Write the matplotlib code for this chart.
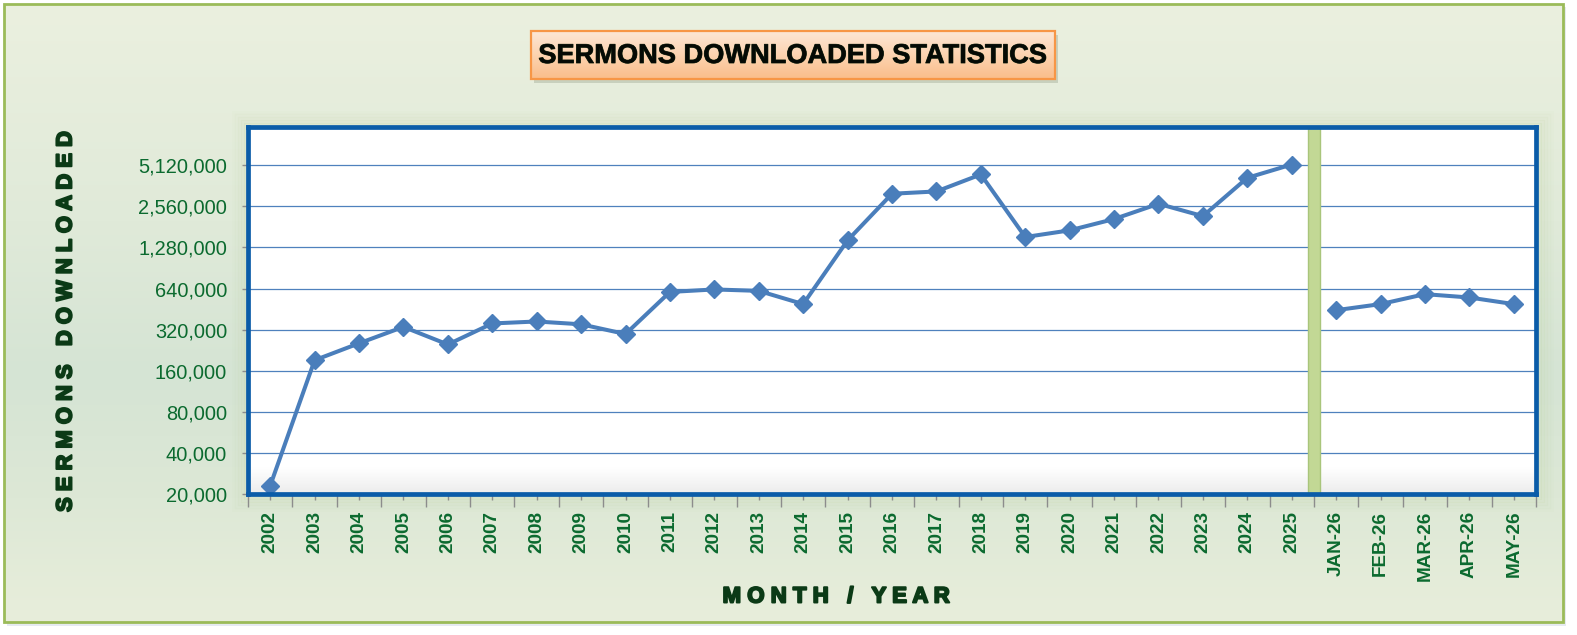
import numpy as np
import matplotlib
matplotlib.use("Agg")
import matplotlib.pyplot as plt
import matplotlib.patheffects as pe
from matplotlib.patches import Rectangle
from matplotlib.colors import to_rgb
from matplotlib.ticker import FixedLocator, NullFormatter

# ---------------- data ----------------
years = ["2002", "2003", "2004", "2005", "2006", "2007", "2008", "2009", "2010",
         "2011", "2012", "2013", "2014", "2015", "2016", "2017", "2018", "2019",
         "2020", "2021", "2022", "2023", "2024", "2025"]
year_values = [23000, 191000, 254000, 335000, 249000, 355000, 367000, 350000, 297000,
               604000, 630000, 615000, 492000, 1442000, 3165000, 3290000, 4380000, 1525000,
               1707000, 2065000, 2670000, 2170000, 4140000, 5180000]
months = ["JAN-26", "FEB-26", "MAR-26", "APR-26", "MAY-26"]
month_values = [444000, 492000, 582000, 550000, 492000]
y_ticks = [20000, 40000, 80000, 160000, 320000, 640000, 1280000, 2560000, 5120000]
y_tick_labels = ["20,000", "40,000", "80,000", "160,000", "320,000", "640,000",
                 "1,280,000", "2,560,000", "5,120,000"]
title = "SERMONS DOWNLOADED STATISTICS"
y_title = "S E R M O N S   D O W N L O A D E D"
x_title = "M O N T H   /   Y E A R"

W, H = 1577, 635
fig = plt.figure(figsize=(W / 100, H / 100), dpi=100)
fig.patch.set_facecolor("white")

ARIAL = ["Liberation Sans", "DejaVu Sans"]
TICK_GREEN = "#0b6a2f"
DARK_GREEN = "#0b3a16"

# ---------------- background (pixel coordinates) ----------------
bg = fig.add_axes([0, 0, 1, 1], zorder=-10)
bg.set_xlim(0, W)
bg.set_ylim(H, 0)
bg.axis("off")


def vgrad(stops, n=256):
    pos = np.linspace(0, 1, n)
    cols = np.array([to_rgb(c) for _, c in stops])
    ps = [p for p, _ in stops]
    arr = np.stack([np.interp(pos, ps, cols[:, k]) for k in range(3)], axis=1)
    return arr[:, None, :]


# outer shadow
bg.add_patch(Rectangle((7, 7), 1559, 619, facecolor="#d6dde8", edgecolor="none", alpha=0.6, zorder=0))
# outer gradient
bg.imshow(vgrad([(0, "#ebf0df"), (0.35, "#e0ead9"), (0.6, "#d5e4d4"), (0.8, "#dde8d6"), (1, "#e8eedb")]),
          extent=(4, 1563, 622, 4), aspect="auto", zorder=1, interpolation="bilinear")
bg.add_patch(Rectangle((4, 4), 1559, 618, facecolor="none", edgecolor="#9bbb59", lw=2.0, zorder=2))

# plot-area glow
PX0, PX1, PY0, PY1 = 248, 1536, 127, 494
for i, a in enumerate([0.09, 0.07, 0.05, 0.035, 0.02]):
    d = 3 + i * 3
    bg.add_patch(Rectangle((PX0 - d + 1, PY0 - d + 1), (PX1 - PX0) + 2 * d, (PY1 - PY0) + 2 * d,
                           facecolor="none", edgecolor="#9fbd6a", lw=3, alpha=a, zorder=3))
# plot-area white fill with slight inner bottom shading
bg.imshow(vgrad([(0, "#ffffff"), (0.93, "#ffffff"), (1, "#ececec")]),
          extent=(PX0, PX1, PY1, PY0), aspect="auto", zorder=4, interpolation="bilinear")

# title box
TX0, TX1, TY0, TY1 = 531, 1055, 31, 79
bg.add_patch(Rectangle((TX0 + 3, TY0 + 4), TX1 - TX0, TY1 - TY0, facecolor="#a3ad98", edgecolor="none",
                       alpha=0.45, zorder=5))
bg.imshow(vgrad([(0, "#fde7d6"), (0.5, "#fcd3b0"), (1, "#fabd8a")]),
          extent=(TX0, TX1, TY1, TY0), aspect="auto", zorder=6, interpolation="bilinear")
bg.add_patch(Rectangle((TX0, TY0), TX1 - TX0, TY1 - TY0, facecolor="none", edgecolor="#f79646", lw=1.6, zorder=7))
bg.text((TX0 + TX1) / 2, (TY0 + TY1) / 2 + 1, title, ha="center", va="center", fontsize=19.6,
        fontweight="bold", family=ARIAL, color="#050a05", zorder=8,
        path_effects=[pe.withStroke(linewidth=0.6, foreground="#1c2c14")])

bg.set_xlim(0, W)
bg.set_ylim(H, 0)

# axis titles
heavy = [pe.withStroke(linewidth=1.4, foreground=DARK_GREEN)]
bg.text(66, 321, y_title, rotation=90, ha="center", va="center", fontsize=15.8, fontweight="bold",
        family=ARIAL, color=DARK_GREEN, zorder=8, path_effects=heavy)
bg.text(836, 597, x_title, ha="center", va="center", fontsize=16, fontweight="bold",
        family=ARIAL, color=DARK_GREEN, zorder=8, path_effects=heavy)

# ---------------- main axes ----------------
ax = fig.add_axes([PX0 / W, 1 - PY1 / H, (PX1 - PX0) / W, (PY1 - PY0) / H], zorder=1)
ax.set_facecolor("none")
ax.set_yscale("log", base=2)

n_years = len(years)
x_years = np.arange(n_years)
x_months = np.arange(n_years, n_years + len(months))
labels = years + months

line_kw = dict(color="#4a7ebb", lw=2.9, marker="D", markersize=8.8, markerfacecolor="#4a7ebb",
               markeredgecolor="#4a7ebb", zorder=5, clip_on=False)
ax.plot(x_years, year_values, **line_kw)
ax.plot(x_months, month_values, **line_kw)

# separator bar between years and months
sep = n_years - 0.5
ax.axvspan(sep - 0.135, sep + 0.135, color="#c2d895", ec="#a9c57b", lw=1.0, zorder=4)

ax.set_xlim(-0.5, len(labels) - 0.5)
ax.set_ylim(20000, 20000 * 2 ** 8.93)

ax.yaxis.set_major_locator(FixedLocator(y_ticks))
ax.set_yticklabels(y_tick_labels)
ax.yaxis.set_minor_locator(FixedLocator([]))
ax.yaxis.set_minor_formatter(NullFormatter())
ax.grid(axis="y", which="major", color="#4f81bd", lw=0.9, zorder=1)

ax.set_xticks(np.arange(len(labels)))
ax.set_xticklabels(labels, rotation=90)
ax.xaxis.set_minor_locator(FixedLocator(np.arange(-0.5, len(labels), 1.0)))

ax.tick_params(axis="y", which="major", length=4, width=1, color="#8c8c8c", pad=11,
               labelsize=14.4, labelcolor=TICK_GREEN)
ax.tick_params(axis="x", which="major", length=4, width=1, color="#8c8c8c", pad=8,
               labelsize=13.6, labelcolor=TICK_GREEN)
ax.tick_params(axis="x", which="minor", length=9, width=1, color="#8c8c8c")
for lab in ax.get_yticklabels():
    lab.set_family(ARIAL)
for lab in ax.get_xticklabels():
    lab.set_family(ARIAL)
    lab.set_fontweight("bold")

for s in ax.spines.values():
    s.set_color("#0a5ca8")
    s.set_linewidth(3.4)
    s.set_zorder(6)

fig.savefig("out.png", dpi=100, facecolor=fig.get_facecolor())
